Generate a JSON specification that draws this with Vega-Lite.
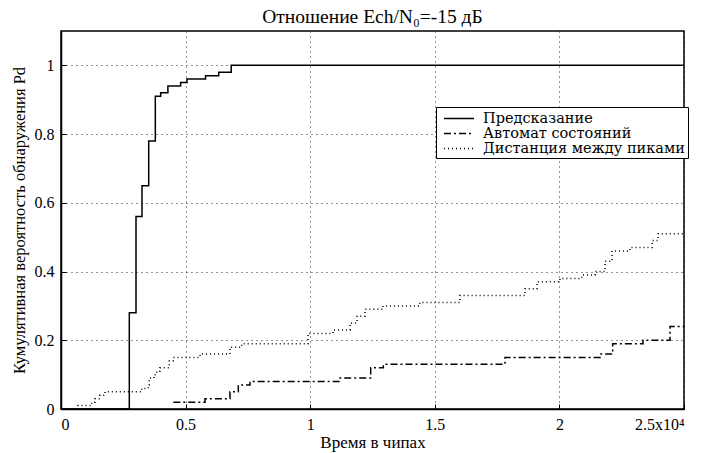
{
  "$schema": "https://vega.github.io/schema/vega-lite/v6.json",
  "autosize": {"type": "none"},
  "padding": {"left": 61, "top": 31, "right": 18, "bottom": 44},
  "width": 623,
  "height": 378,
  "background": "white",
  "title": {
    "text": "Отношение Ech/N₀=-15 дБ",
    "font": "Liberation Serif",
    "fontSize": 19.5,
    "fontWeight": "normal",
    "color": "black",
    "offset": 4
  },
  "config": {
    "view": {"stroke": "black", "strokeWidth": 1.5},
    "axis": {
      "labelFont": "Liberation Serif",
      "labelFontSize": 16,
      "labelColor": "black",
      "titleFont": "Liberation Serif",
      "titleFontSize": 17,
      "titleFontWeight": "normal",
      "titleColor": "black",
      "domainColor": "black",
      "domainWidth": 1.5,
      "tickColor": "black",
      "tickSize": -5,
      "gridColor": "black",
      "gridOpacity": 0.85,
      "gridDash": [1, 4],
      "gridWidth": 1
    }
  },
  "data": {
    "values": [
      {"s": "Предсказание", "x": 0, "p": 0},
      {"s": "Предсказание", "x": 2741, "p": 0.28},
      {"s": "Предсказание", "x": 3010, "p": 0.56},
      {"s": "Предсказание", "x": 3250, "p": 0.65},
      {"s": "Предсказание", "x": 3520, "p": 0.78},
      {"s": "Предсказание", "x": 3785, "p": 0.91},
      {"s": "Предсказание", "x": 4000, "p": 0.92},
      {"s": "Предсказание", "x": 4290, "p": 0.94},
      {"s": "Предсказание", "x": 4800, "p": 0.95},
      {"s": "Предсказание", "x": 5055, "p": 0.96},
      {"s": "Предсказание", "x": 5800, "p": 0.97},
      {"s": "Предсказание", "x": 6330, "p": 0.98},
      {"s": "Предсказание", "x": 6830, "p": 1.0},
      {"s": "Предсказание", "x": 25000, "p": 1.0},

      {"s": "Автомат состояний", "x": 4506, "p": 0.02},
      {"s": "Автомат состояний", "x": 5778, "p": 0.03},
      {"s": "Автомат состояний", "x": 6780, "p": 0.05},
      {"s": "Автомат состояний", "x": 7115, "p": 0.07},
      {"s": "Автомат состояний", "x": 7584, "p": 0.08},
      {"s": "Автомат состояний", "x": 11196, "p": 0.09},
      {"s": "Автомат состояний", "x": 12428, "p": 0.12},
      {"s": "Автомат состояний", "x": 12934, "p": 0.13},
      {"s": "Автомат состояний", "x": 17817, "p": 0.15},
      {"s": "Автомат состояний", "x": 21629, "p": 0.16},
      {"s": "Автомат состояний", "x": 22138, "p": 0.19},
      {"s": "Автомат состояний", "x": 23355, "p": 0.2},
      {"s": "Автомат состояний", "x": 24438, "p": 0.24},
      {"s": "Автомат состояний", "x": 25000, "p": 0.24},

      {"s": "Дистанция между пиками", "x": 0, "p": 0},
      {"s": "Дистанция между пиками", "x": 680, "p": 0.01},
      {"s": "Дистанция между пиками", "x": 1230, "p": 0.02},
      {"s": "Дистанция между пиками", "x": 1360, "p": 0.03},
      {"s": "Дистанция между пиками", "x": 1560, "p": 0.04},
      {"s": "Дистанция между пиками", "x": 1765, "p": 0.05},
      {"s": "Дистанция между пиками", "x": 3240, "p": 0.06},
      {"s": "Дистанция между пиками", "x": 3500, "p": 0.07},
      {"s": "Дистанция между пиками", "x": 3540, "p": 0.09},
      {"s": "Дистанция между пиками", "x": 3730, "p": 0.1},
      {"s": "Дистанция между пиками", "x": 3840, "p": 0.11},
      {"s": "Дистанция между пиками", "x": 3970, "p": 0.12},
      {"s": "Дистанция между пиками", "x": 4345, "p": 0.14},
      {"s": "Дистанция между пиками", "x": 4500, "p": 0.15},
      {"s": "Дистанция между пиками", "x": 5580, "p": 0.16},
      {"s": "Дистанция между пиками", "x": 6780, "p": 0.18},
      {"s": "Дистанция между пиками", "x": 7250, "p": 0.19},
      {"s": "Дистанция между пиками", "x": 9910, "p": 0.22},
      {"s": "Дистанция между пиками", "x": 10915, "p": 0.23},
      {"s": "Дистанция между пиками", "x": 11600, "p": 0.25},
      {"s": "Дистанция между пиками", "x": 11880, "p": 0.27},
      {"s": "Дистанция между пиками", "x": 12200, "p": 0.29},
      {"s": "Дистанция между пиками", "x": 12920, "p": 0.3},
      {"s": "Дистанция между пиками", "x": 14400, "p": 0.31},
      {"s": "Дистанция между пиками", "x": 16010, "p": 0.33},
      {"s": "Дистанция между пиками", "x": 18620, "p": 0.35},
      {"s": "Дистанция между пиками", "x": 19100, "p": 0.37},
      {"s": "Дистанция между пиками", "x": 20020, "p": 0.38},
      {"s": "Дистанция между пиками", "x": 20900, "p": 0.39},
      {"s": "Дистанция между пиками", "x": 21430, "p": 0.4},
      {"s": "Дистанция между пиками", "x": 21830, "p": 0.43},
      {"s": "Дистанция между пиками", "x": 22110, "p": 0.46},
      {"s": "Дистанция между пиками", "x": 22830, "p": 0.47},
      {"s": "Дистанция между пиками", "x": 23720, "p": 0.49},
      {"s": "Дистанция между пиками", "x": 23960, "p": 0.51},
      {"s": "Дистанция между пиками", "x": 25000, "p": 0.51}
    ]
  },
  "mark": {"type": "line", "interpolate": "step-after", "color": "black", "strokeWidth": 1.5, "clip": true},
  "encoding": {
    "x": {
      "field": "x",
      "type": "quantitative",
      "scale": {"domain": [0, 25000], "nice": false},
      "axis": {
        "title": "Время в чипах",
        "values": [0, 5000, 10000, 15000, 20000, 25000],
        "labelExpr": "datum.value == 25000 ? '2.5x10⁴' : format(datum.value / 10000, '~g')",
        "labelPadding": 12,
        "titlePadding": 2
      }
    },
    "y": {
      "field": "p",
      "type": "quantitative",
      "scale": {"domain": [0, 1.1], "nice": false},
      "axis": {
        "title": "Кумулятивная вероятность обнаружения Pd",
        "titleFontSize": 16.5,
        "values": [0, 0.2, 0.4, 0.6, 0.8, 1],
        "format": "~g",
        "labelPadding": 12,
        "titlePadding": 7
      }
    },
    "strokeDash": {
      "field": "s",
      "type": "nominal",
      "scale": {
        "domain": ["Предсказание", "Автомат состояний", "Дистанция между пиками"],
        "range": [[1, 0], [7, 3, 2, 3], [1, 3]]
      },
      "legend": {
        "title": null,
        "orient": "none",
        "legendX": 375,
        "legendY": 76,
        "strokeColor": "black",
        "fillColor": "white",
        "padding": 3,
        "symbolType": "M-2,0H2",
        "symbolSize": 225,
        "symbolOffset": 11.5,
        "symbolStrokeColor": "black",
        "symbolStrokeWidth": 1.3,
        "labelFont": "DejaVu Serif",
        "labelFontSize": 14.5,
        "labelColor": "black",
        "labelOffset": 15.5,
        "rowPadding": 0,
        "labelLimit": 300
      }
    }
  }
}
